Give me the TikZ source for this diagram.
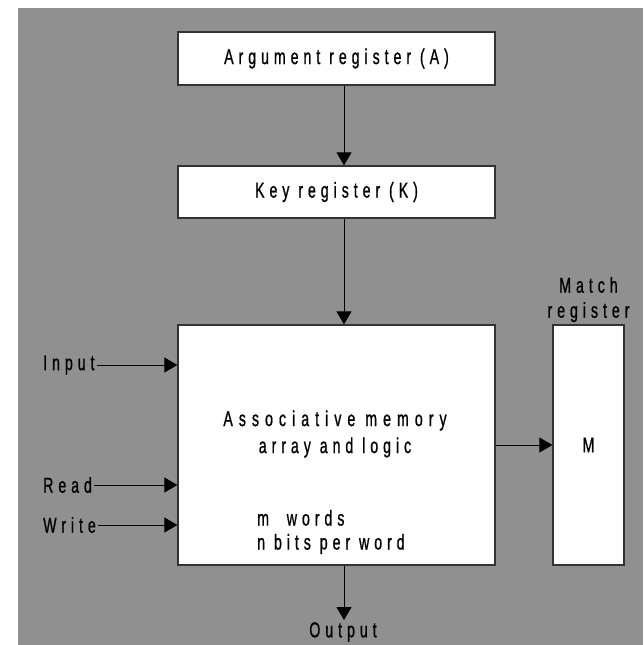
\documentclass[tikz,border=0pt]{standalone}
\usepackage{fontspec}
\newfontfamily\diagfont[FakeStretch=0.66,LetterSpace=23,FakeBold=0.8]{Liberation Sans}
\definecolor{bggray}{HTML}{909090}
\definecolor{boxline}{HTML}{333333}
\definecolor{txt}{HTML}{000000}
\usetikzlibrary{arrows.meta,positioning}

\begin{document}
\begin{tikzpicture}[x=1pt,y=-1pt,
  regbox/.style={
    draw=boxline, fill=white, line width=1.3pt,
    inner sep=0pt, font=\diagfont\fontsize{21.5}{27}\selectfont, text=txt},
  lbl/.style={
    font=\diagfont\fontsize{21.5}{27}\selectfont, text=txt,
    inner sep=2pt, align=center},
  arr/.style={-{Triangle[length=13pt,width=15pt]}, black, line width=0.9pt},
]
  \useasboundingbox (0,0) rectangle (643,645);
  \fill[bggray] (18,8) rectangle (643,645);

  % registers
  \node[regbox, minimum width=317pt, minimum height=53pt] (argreg) at (336.5,58.5) {Argument register (A)};
  \node[regbox, minimum width=317pt, minimum height=52pt] (keyreg) at (336.5,192) {Key register (K)};
  \node[regbox, minimum width=317pt, minimum height=240pt] (mem) at (336.5,445) {};
  \node[regbox, minimum width=71pt, minimum height=240pt] (match) at (588.5,445) {M};

  \node[lbl, align=center] (memtxt) at (335,434) {{\addfontfeatures{LetterSpace=28}Associative memory}\\array and logic};
  \node[lbl, align=left, anchor=west, font=\diagfont\fontsize{21.5}{24}\selectfont] (memsize) at (255,532) {m\ \ words\\n\ bits per word};
  \node[lbl, above=0pt of match, font=\diagfont\fontsize{21.5}{25}\selectfont] (matchtxt) {Match\\register};

  % control lines
  \node[lbl, anchor=west] (inp) at (41,365) {Input};
  \node[lbl, anchor=west] (rd)  at (41,485) {Read};
  \node[lbl, anchor=west] (wr)  at (41,525) {Write};
  \node[lbl] (outp) at (343,632) {Output};

  \draw[arr] ([xshift=7.5pt]argreg.south) -- ([xshift=7.5pt]keyreg.north);
  \draw[arr] ([xshift=7.5pt]keyreg.south) -- ([xshift=7.5pt]mem.north);
  \draw[arr] (mem.east |- match) -- (match.west);
  \draw[arr] (inp.east) -- (inp.east -| mem.west);
  \draw[arr] (rd.east)  -- (rd.east -| mem.west);
  \draw[arr] (wr.east)  -- (wr.east -| mem.west);
  \draw[arr] ([xshift=7.5pt]mem.south) -- (outp.north -| 344,0);
\end{tikzpicture}
\end{document}
